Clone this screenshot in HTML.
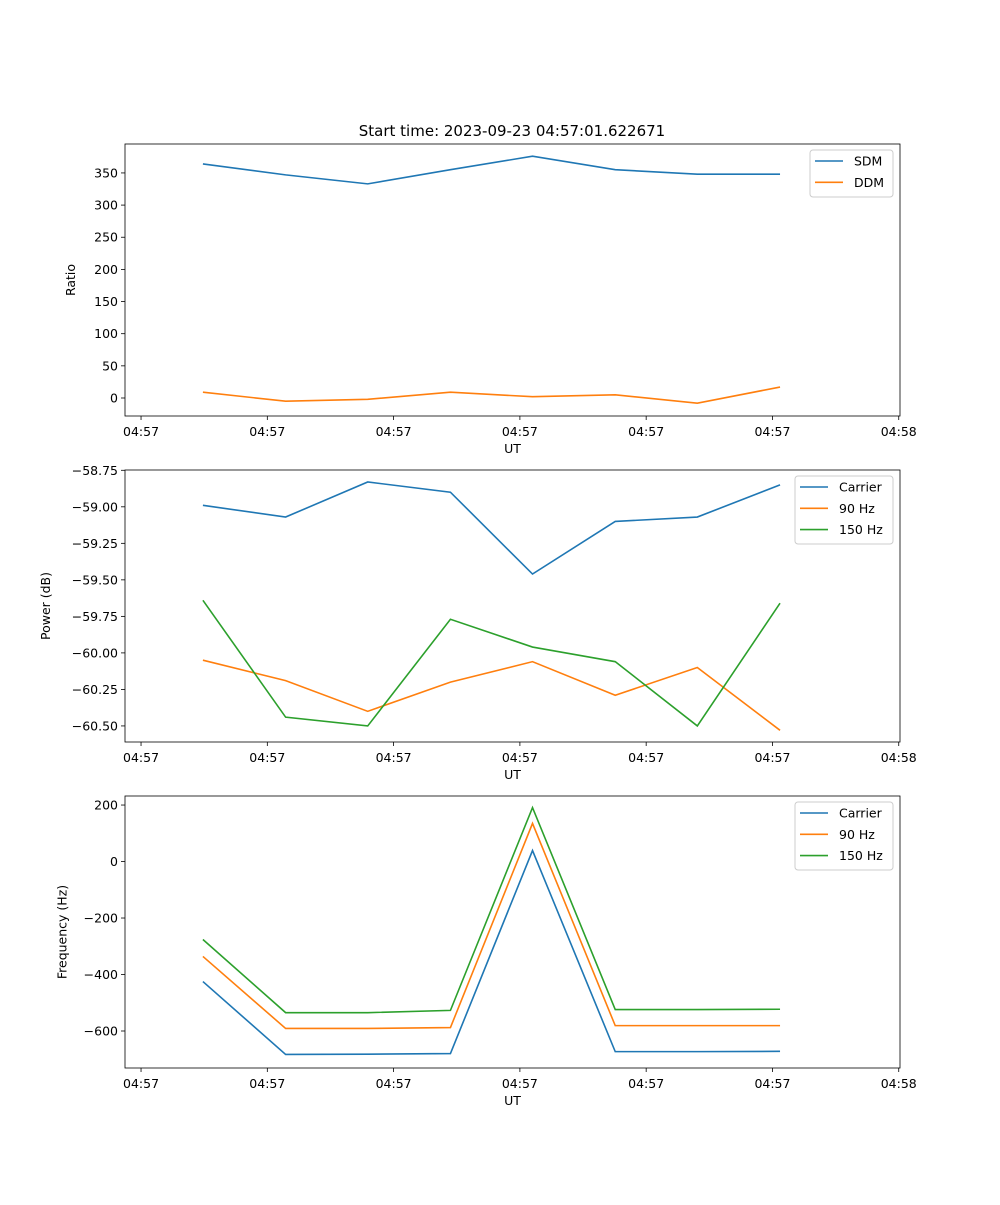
<!DOCTYPE html>
<html><head><meta charset="utf-8"><style>
body{margin:0;background:#fff}
svg text{font-family:"DejaVu Sans","Liberation Sans",sans-serif;fill:#000}
</style></head><body>
<svg id="chart" width="1000" height="1200" xmlns="http://www.w3.org/2000/svg">
<text x="512" y="136" font-size="15" text-anchor="middle">Start time: 2023-09-23 04:57:01.622671</text>
</svg>
<script>
const times = [4.9, 11.45, 17.95, 24.5, 31.0, 37.55, 44.05, 50.6];
const xTicks = [0, 10, 20, 30, 40, 50, 60];
const xTickLabels = ["04:57","04:57","04:57","04:57","04:57","04:57","04:58"];
const sdm = [364, 347, 333, 355, 376, 355, 348, 348];
const ddm = [9, -5, -2, 9, 2, 5, -8, 17];
const powCarrier = [-58.99, -59.07, -58.83, -58.90, -59.46, -59.10, -59.07, -58.85];
const pow90 = [-60.05, -60.19, -60.40, -60.20, -60.06, -60.29, -60.10, -60.53];
const pow150 = [-59.64, -60.44, -60.50, -59.77, -59.96, -60.06, -60.50, -59.66];
const freqCarrier = [-425, -683, -682, -680, 39, -673, -673, -672];
const freq90 = [-336, -591, -591, -588, 135, -581, -581, -581];
const freq150 = [-276, -535, -535, -527, 191, -524, -524, -523];
const ratioTicks = [0, 50, 100, 150, 200, 250, 300, 350];
const powTicks = [-60.5, -60.25, -60.0, -59.75, -59.5, -59.25, -59.0, -58.75];
const freqTicks = [-600, -400, -200, 0, 200];

const NS = "http://www.w3.org/2000/svg";
const svg = document.getElementById('chart');
const C = {blue:'#1f77b4', orange:'#ff7f0e', green:'#2ca02c'};
function mk(tag, attrs, parent){const e=document.createElementNS(NS,tag);for(const k in attrs)e.setAttribute(k,attrs[k]);(parent||svg).appendChild(e);return e;}

function panel(name, top, yMin, yMax, yTicks, fmt, ylabel, series, legendW, legendH){
  const L=125,R=900,T=top,B=top+272;
  const xs=t=>L+(t-(-1.27))/(60.1-(-1.27))*(R-L);
  const ys=v=>B-(v-yMin)/(yMax-yMin)*(B-T);
  const g=mk('g',{});
  
  
  series.forEach(s=>{
    const p=mk('polyline',{points:s.data.map((v,i)=>xs(times[i])+','+ys(v)).join(' '),fill:'none',stroke:s.color,'stroke-width':1.6},g);
    
    
  });
  const frame=mk('rect',{x:L,y:T,width:R-L,height:B-T,fill:'none',stroke:'#000','stroke-width':0.8},g);
  
  
  xTicks.forEach((t,i)=>{
    const x=xs(t);
    mk('line',{x1:x,x2:x,y1:B,y2:B+4,stroke:'#000','stroke-width':0.8},g);
    const tx=mk('text',{x:x,y:B+20,'font-size':12.5,'text-anchor':'middle'},g);
    tx.textContent=xTickLabels[i];
    
    
  });
  const xl=mk('text',{x:(L+R)/2,y:B+37,'font-size':12.5,'text-anchor':'middle'},g);
  xl.textContent='UT';
  
  
  let maxW=0;
  yTicks.forEach(v=>{
    const y=ys(v);
    mk('line',{x1:L-4,x2:L,y1:y,y2:y,stroke:'#000','stroke-width':0.8},g);
    const s=fmt(v); maxW=Math.max(maxW,s.length);
    const tx=mk('text',{x:L-7,y:y+4.5,'font-size':12.5,'text-anchor':'end'},g);
    tx.textContent=s;
    
    
  });
  const lx=L-25-maxW*8.33;
  const yl=mk('text',{x:lx,y:(T+B)/2,'font-size':12.5,'text-anchor':'middle',transform:`rotate(-90 ${lx} ${(T+B)/2})`},g);
  yl.textContent=ylabel;
  
  
  const lgX=R-7-legendW, lgY=T+6;
  const lg=mk('g',{},g);
  
  
  mk('rect',{x:lgX,y:lgY,width:legendW,height:legendH,rx:3,fill:'#fff',stroke:'#ccc','stroke-width':1},lg);
  series.forEach((s,i)=>{
    const y=lgY+11+i*21.3;
    mk('line',{x1:lgX+5,x2:lgX+33,y1:y,y2:y,stroke:s.color,'stroke-width':1.6},lg);
    const tx=mk('text',{x:lgX+44,y:y+4.5,'font-size':12.5},lg);
    tx.textContent=s.label;
    
    
  });
}
panel('ratio',144,-28,395,ratioTicks,v=>String(v),'Ratio',
  [{key:'sdm',label:'SDM',data:sdm,color:C.blue},{key:'ddm',label:'DDM',data:ddm,color:C.orange}],83,47);
panel('power',470,-60.61,-58.748,powTicks,v=>v.toFixed(2).replace('-','\u2212'),'Power (dB)',
  [{key:'carrier',label:'Carrier',data:powCarrier,color:C.blue},{key:'90hz',label:'90 Hz',data:pow90,color:C.orange},{key:'150hz',label:'150 Hz',data:pow150,color:C.green}],98,68);
panel('frequency',796,-731,232,freqTicks,v=>String(v).replace('-','\u2212'),'Frequency (Hz)',
  [{key:'carrier',label:'Carrier',data:freqCarrier,color:C.blue},{key:'90hz',label:'90 Hz',data:freq90,color:C.orange},{key:'150hz',label:'150 Hz',data:freq150,color:C.green}],98,68);
</script>
</body></html>
